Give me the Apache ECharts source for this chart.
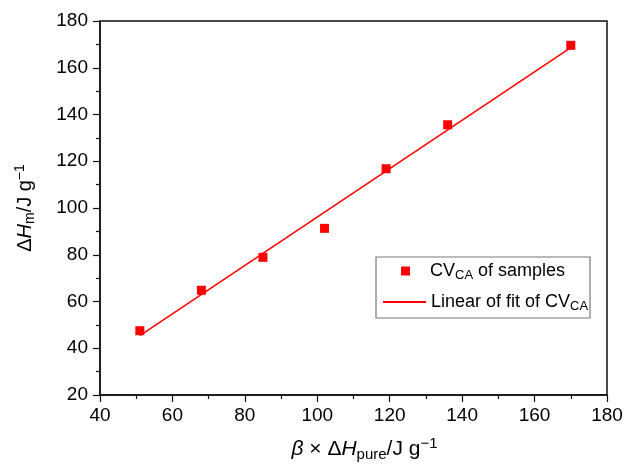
<!DOCTYPE html>
<html>
<head>
<meta charset="utf-8">
<script src="https://cdn.jsdelivr.net/npm/echarts@6/dist/echarts.min.js"></script>
<style>
  html, body { margin: 0; padding: 0; background: #fff; }
  #main { width: 625px; height: 465px; }
</style>
</head>
<body>
<div id="main"></div>
<script>
// measured sample points
var sampleX = [51, 68, 85, 102, 119, 136, 170];
var sampleY = [47.5, 64.8, 78.9, 91.3, 116.8, 135.6, 169.6];
// fitted line end points
var fitX = [51, 170];
var fitY = [45.4, 168.6];

var xTicks = [40, 180, 20];
var yTicks = [20, 180, 20];

var FONT = 'Liberation Sans, Arial, sans-serif';
var myChart = echarts.init(document.getElementById('main'));

var scatterData = [];
for (var i = 0; i < sampleX.length; i++) {
    scatterData.push([sampleX[i], sampleY[i]]);
}
var lineData = [];
for (var j = 0; j < fitX.length; j++) {
    lineData.push([fitX[j], fitY[j]]);
}

function makeRich(size) {
    var small = Math.round(size * 0.72);
    var off = Math.round(size * 0.5);
    return {
        i: { fontStyle: 'italic', fontSize: size, fontFamily: FONT, color: '#000' },
        n: { fontSize: size, fontFamily: FONT, color: '#000' },
        sub: { fontSize: small, fontFamily: FONT, color: '#000', padding: [off, 0, 0, 0] },
        sup: { fontSize: small, fontFamily: FONT, color: '#000', padding: [0, 0, off, 0] }
    };
}

var legendNames = {
    'samples': '{n|CV}{sub|CA}{n| of samples}',
    'fit': '{n|Linear of fit of CV}{sub|CA}'
};

var axisCommon = {
    type: 'value',
    axisLine: { show: true, lineStyle: { color: '#111', width: 1.5 } },
    axisTick: { show: true, inside: false, length: 7, lineStyle: { color: '#111', width: 1.2 } },
    minorTick: { show: true, splitNumber: 2, length: 4, lineStyle: { color: '#111', width: 1.2 } },
    splitLine: { show: false },
    axisLabel: { color: '#000', fontSize: 19, fontFamily: FONT }
};

option = {
    backgroundColor: '#fff',
    animation: false,
    grid: {
        left: 100, right: 18, top: 21, bottom: 70,
        outerBoundsMode: 'none',
        show: true, borderColor: '#111', borderWidth: 1.5, backgroundColor: 'transparent'
    },
    xAxis: Object.assign({}, axisCommon, {
        min: xTicks[0], max: xTicks[1], interval: xTicks[2],
        axisLabel: Object.assign({}, axisCommon.axisLabel, { margin: 11 }),
        name: '{i|β}{n| × Δ}{i|H}{sub|pure}{n|/J g}{sup|−1}',
        nameLocation: 'middle',
        nameGap: 41,
        nameTextStyle: { rich: makeRich(21), padding: [0, 0, 0, 22] }
    }),
    yAxis: Object.assign({}, axisCommon, {
        min: yTicks[0], max: yTicks[1], interval: yTicks[2],
        axisLabel: Object.assign({}, axisCommon.axisLabel, { margin: 12 }),
        name: '{n|Δ}{i|H}{sub|m}{n|/J g}{sup|−1}',
        nameLocation: 'middle',
        nameGap: 63,
        nameTextStyle: { rich: makeRich(20) }
    }),
    graphic: [{
        type: 'rect',
        shape: { x: 376, y: 257, width: 214, height: 61 },
        style: { fill: '#fff', stroke: '#777', lineWidth: 1.2 },
        z: 3
    }],
    legend: [{
        data: [{ name: 'samples', icon: 'rect' }],
        left: 401, top: 262,
        padding: 0,
        itemWidth: 9, itemHeight: 9,
        formatter: function (name) { return legendNames[name]; },
        textStyle: { rich: makeRich(18), padding: [0, 0, 0, 15] },
        z: 5
    }, {
        data: [{ name: 'fit', icon: 'rect', itemStyle: { color: '#ff0000' } }],
        left: 383, top: 293,
        padding: 0,
        itemWidth: 43, itemHeight: 2,
        formatter: function (name) { return legendNames[name]; },
        textStyle: { rich: makeRich(18) },
        z: 5
    }],
    series: [{
        name: 'fit',
        type: 'line',
        data: lineData,
        symbol: 'none',
        lineStyle: { color: '#ff0000', width: 1.6 },
        itemStyle: { color: '#ff0000' },
        z: 2
    }, {
        name: 'samples',
        type: 'scatter',
        data: scatterData,
        symbol: 'rect',
        symbolSize: 9,
        itemStyle: { color: '#ff0000', opacity: 1 },
        z: 3
    }]
};

if (option && typeof option === "object") {
    myChart.setOption(option, true);
}
</script>
</body>
</html>
